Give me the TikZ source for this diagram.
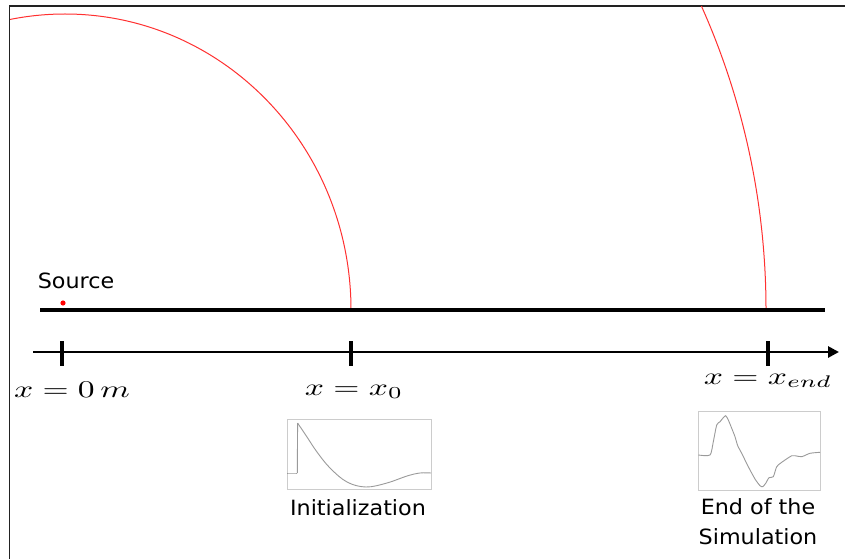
\documentclass[tikz,border=0pt]{standalone}
\usepackage[no-math]{fontspec}
\setmainfont{DejaVu Sans}[FakeStretch=1.06]
\usepackage{graphicx}
\usetikzlibrary{arrows.meta}
\definecolor{framegray}{HTML}{222222}
\definecolor{boxgray}{HTML}{CCCCCC}
\definecolor{curvegray}{HTML}{9A9A9A}
\definecolor{wavered}{HTML}{FF3030}
\tikzset{
  frameline/.style={draw=framegray, line width=1.1pt},
  wavefront/.style={draw=wavered, line width=1pt},
  ground/.style={draw=black, line width=4.4pt},
  axisline/.style={draw=black, line width=2.8pt, -{Triangle[length=11pt,width=11pt]}},
  tickmark/.style={draw=black, line width=3.2pt},
  mathlabel/.style={inner sep=0pt},
  txt/.style={inner sep=0pt, font=\fontsize{21}{30}\selectfont, align=center},
  plotbox/.style={draw=boxgray, line width=0.9pt, inner sep=0pt},
  signal/.style={draw=curvegray, line width=0.9pt}
}
\newcommand{\widemath}[1]{\scalebox{3.36}[2.4]{$#1$}}
\begin{document}
\begin{tikzpicture}[x=1pt,y=-1pt]
\useasboundingbox (0,0) rectangle (845,559);
\fill[white] (0,0) rectangle (845,559);
% frame
\coordinate (fBL) at (9.5,559);
\coordinate (fTL) at (9.5,6);
\coordinate (fTR) at (845,6);
\draw[frameline] (fBL) -- (fTL) -- (fTR);
% wave fronts
\begin{scope}
\clip (10,6.5) rectangle (845,559);
\draw[wavefront] (351,310) arc[start angle=0,end angle=-180,x radius=286,y radius=296];
\draw[wavefront] (766,310) arc[start angle=0,end angle=-100,x radius=701,y radius=725];
\end{scope}
% ground line
\coordinate (gL) at (40,310);
\coordinate (gR) at (825,310);
\draw[ground] (gL) -- (gR);
% source
\fill[red] (63,303) circle (2.6pt);
\node[txt] (src) at (76,281) {Source};
% axis
\coordinate (axL) at (33,352);
\coordinate (axR) at (839,352);
\draw[axisline] (axL) -- (axR);
\foreach \n/\x in {t0/62,t1/351,t2/768}{
  \coordinate (\n top) at (\x,341);
  \coordinate (\n bot) at (\x,366);
  \draw[tickmark] (\n top) -- (\n bot);
}
\node[mathlabel] (l0) at (72,390) {\widemath{x = 0\,m}};
\node[mathlabel] (l1) at (354,392) {\widemath{x = x_0}};
\node[mathlabel] (l2) at (768,381) {\widemath{x = x_{end}}};
% initialization plot
\node[plotbox, minimum width=144pt, minimum height=70pt] (pinit) at (359,454.5) {};
\draw[signal] plot[smooth] coordinates {(287,473) (297.3,473)};
\draw[signal] (297.3,473) -- (297.6,423);
\draw[signal] plot[smooth, tension=0.6] coordinates {(297.6,423) (307,437) (317,452) (330,468) (347,482) (366,487) (387,483) (407,476) (420,473) (431,473)};
\node[txt] (tinit) at (358,508) {Initialization};
% end plot
\node[plotbox, minimum width=121.7pt, minimum height=79pt] (pend) at (759.2,450.5) {};
\draw[signal] plot[smooth, tension=0.4] coordinates {(698.3,455) (710,455) (713.3,441.7) (716.7,425) (720,421.7) (723.3,417.7) (725.7,415.7) (728.3,420) (731.7,428.3) (735,436.7) (737.7,445.7) (741.7,453.3) (748.3,466.7) (755,479) (760,485.7) (762.7,486.7) (765.7,483.3) (769,477.7) (773.3,476.7) (776.7,466.7) (781.7,462.3) (791.7,455.7) (795,455.7) (801.7,456.7) (810,453.3) (820,452.3)};
\node[txt] (tend) at (758,522) {End of the\\Simulation};
\end{tikzpicture}
\end{document}
